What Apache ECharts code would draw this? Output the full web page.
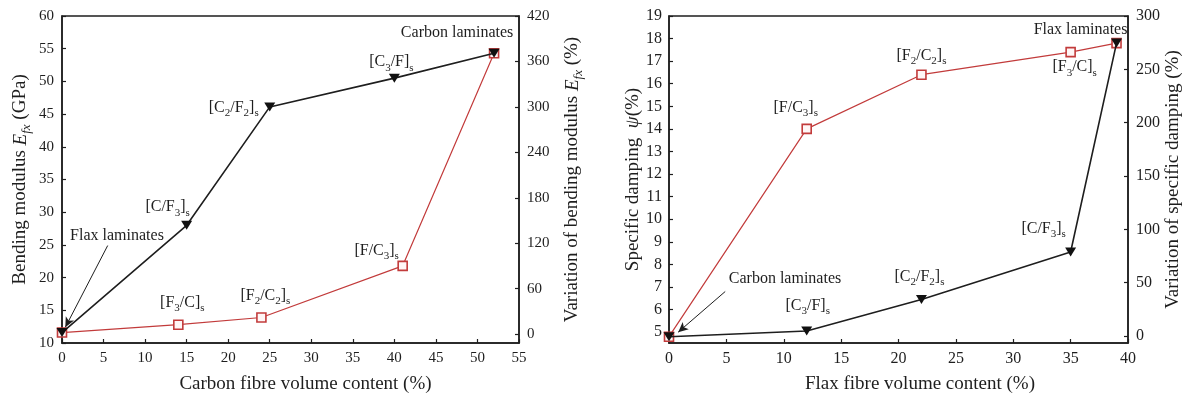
<!DOCTYPE html>
<html>
<head>
<meta charset="utf-8">
<script src="https://cdn.jsdelivr.net/npm/echarts@6/dist/echarts.min.js"></script>
<style>
  html, body { margin: 0; padding: 0; background: #fff; }
  #chart { width: 1184px; height: 399px; }
</style>
</head>
<body>
<div id="chart"></div>
<script>
// ---- Left panel: bending modulus against carbon fibre volume content ----
// Carbon plies on the outside (filled triangles)
const carbonOutContent = [0, 15, 25, 40, 52];
const carbonOutModulus = [11.6, 28.0, 46.1, 50.5, 54.3];
const carbonOutNames = ['Flax laminates', '[C/F_3]_s', '[C_2/F_2]_s', '[C_3/F]_s', 'Carbon laminates'];
// Flax plies on the outside (open squares)
const flaxOutContent = [0, 14, 24, 41, 52];
const flaxOutModulus = [11.6, 12.8, 13.9, 21.8, 54.3];
const flaxOutNames = ['', '[F_3/C]_s', '[F_2/C_2]_s', '[F/C_3]_s', ''];

// ---- Right panel: specific damping against flax fibre volume content ----
const dampFlaxOutContent = [0, 12, 22, 35, 39];
const dampFlaxOut = [4.8, 14.0, 16.4, 17.4, 17.8];
const dampFlaxOutNames = ['', '[F/C_3]_s', '[F_2/C_2]_s', '[F_3/C]_s', 'Flax laminates'];
const dampCarbonOutContent = [0, 12, 22, 35, 39];
const dampCarbonOut = [4.8, 5.05, 6.45, 8.55, 17.8];
const dampCarbonOutNames = ['Carbon laminates', '[C_3/F]_s', '[C_2/F_2]_s', '[C/F_3]_s', ''];

// Tick values
const modulusTicks = [10, 15, 20, 25, 30, 35, 40, 45, 50, 55, 60];
const modulusVarTicks = [0, 60, 120, 180, 240, 300, 360, 420];
const carbonTicks = [0, 5, 10, 15, 20, 25, 30, 35, 40, 45, 50, 55];
const dampTicks = [5, 6, 7, 8, 9, 10, 11, 12, 13, 14, 15, 16, 17, 18, 19];
const dampVarTicks = [0, 50, 100, 150, 200, 250, 300];
const flaxTicks = [0, 5, 10, 15, 20, 25, 30, 35, 40];

// ---- styling ----
const FONT = '"Liberation Serif", "DejaVu Serif", serif';
const INK = '#1e1e1e';
const RED = '#c23b3b';

// "[C_2/F_2]_s" -> rich text with subscripts
function toRich(t) {
  return t.split(/(_\w)/).filter(Boolean)
    .map(p => p[0] === '_' ? '{s|' + p.slice(1) + '}' : '{n|' + p + '}').join('');
}

const labelRich = {
  n: { fontFamily: FONT, fontSize: 16, color: INK, lineHeight: 16, verticalAlign: 'top' },
  s: { fontFamily: FONT, fontSize: 11, color: INK, lineHeight: 11, padding: [8, 0, 0, 0], verticalAlign: 'top' }
};
const nameRich = {
  n: { fontFamily: FONT, fontSize: 19, color: INK, lineHeight: 19, verticalAlign: 'top' },
  i: { fontFamily: FONT, fontSize: 19, fontStyle: 'italic', color: INK, lineHeight: 19, verticalAlign: 'top' },
  is: { fontFamily: FONT, fontSize: 13, fontStyle: 'italic', color: INK, lineHeight: 13, padding: [9, 0, 0, 0], verticalAlign: 'top' }
};

// label offsets (label centre relative to marker centre), per point
const offCarbonOut = [[55, -97], [-19, -18], [-36, 1], [-3, -16], [-37, -20]];
const offFlaxOut = [null, [4, -22], [4, -22], [-26, -15], null];
const offDampFlaxOut = [null, [-11, -21], [0, -19], [4, 15], [-36, -13]];
const offDampCarbonOut = [[116, -58], [1, -25], [-2, -23], [-27, -23], null];

function points(xs, ys, names, offs) {
  return xs.map((x, i) => {
    const item = { value: [x, ys[i]] };
    if (names[i]) {
      item.label = {
        show: true, position: 'inside', align: 'center', verticalAlign: 'middle',
        offset: offs[i], formatter: toRich(names[i]), rich: labelRich
      };
    }
    return item;
  });
}

function valueAxis(extra, fontSize) {
  return Object.assign({
    type: 'value',
    axisLine: { show: true, onZero: false, lineStyle: { color: INK, width: 1.5 } },
    axisTick: { show: true, inside: true, length: 4, lineStyle: { color: INK, width: 1.2 } },
    axisLabel: { color: INK, fontFamily: FONT, fontSize: fontSize, margin: 8 },
    splitLine: { show: false },
    nameLocation: 'middle',
    nameTextStyle: { rich: nameRich, fontFamily: FONT, fontSize: 19, color: INK }
  }, extra);
}

const squareSeries = {
  type: 'line', symbol: 'rect', symbolSize: 9,
  lineStyle: { color: RED, width: 1.2 },
  itemStyle: { color: '#fff6f6', borderColor: RED, borderWidth: 1.6 },
  label: { show: false }, z: 2
};
const triangleSeries = {
  type: 'line', symbol: 'triangle', symbolRotate: 180, symbolSize: [11, 9],
  lineStyle: { color: INK, width: 1.6 },
  itemStyle: { color: '#111', borderWidth: 0 },
  label: { show: false }, z: 3
};
const arrowStyle = {
  silent: true, symbol: ['none', 'arrow'], symbolSize: [7, 10],
  label: { show: false },
  lineStyle: { color: INK, width: 1, type: 'solid' }
};

const option = {
  animation: false,
  backgroundColor: '#fff',
  textStyle: { fontFamily: FONT },
  grid: [
    { left: 62, top: 16, width: 457, height: 330, show: true, borderColor: INK, borderWidth: 1.5, backgroundColor: 'transparent', containLabel: false },
    { left: 669, top: 16, width: 459, height: 331, show: true, borderColor: INK, borderWidth: 1.5, backgroundColor: 'transparent', containLabel: false }
  ],
  xAxis: [
    valueAxis({
      gridIndex: 0, min: carbonTicks[0], max: carbonTicks[carbonTicks.length - 1], interval: 5,
      name: '{n|Carbon fibre volume content (%)}', nameGap: 32,
      nameTextStyle: { rich: nameRich, padding: [0, 0, 0, 30] }
    }, 15),
    valueAxis({
      gridIndex: 1, min: flaxTicks[0], max: flaxTicks[flaxTicks.length - 1], interval: 5,
      name: '{n|Flax fibre volume content (%)}', nameGap: 32,
      nameTextStyle: { rich: nameRich, padding: [0, 0, 0, 43] }
    }, 16)
  ],
  yAxis: [
    valueAxis({
      gridIndex: 0, position: 'left', min: modulusTicks[0], max: modulusTicks[modulusTicks.length - 1], interval: 5,
      name: '{n|Bending modulus }{i|E}{is|fx}{n| (GPa)}', nameRotate: 90, nameGap: 32
    }, 15),
    valueAxis({
      gridIndex: 0, position: 'right', min: -11.8, max: 420,
      axisLabel: { color: INK, fontFamily: FONT, fontSize: 15, margin: 8, customValues: modulusVarTicks },
      axisTick: { show: true, inside: true, length: 4, lineStyle: { color: INK, width: 1.2 }, customValues: modulusVarTicks },
      name: '{n|Variation of bending modulus }{i|E}{is|fx}{n| (%)}', nameRotate: 90, nameGap: 44,
      nameTextStyle: { rich: nameRich, padding: [0, 0, 0, 0] }
    }, 15),
    valueAxis({
      gridIndex: 1, position: 'left', min: 4.52, max: 19,
      axisLabel: { color: INK, fontFamily: FONT, fontSize: 16, margin: 7, customValues: dampTicks },
      axisTick: { show: true, inside: true, length: 4, lineStyle: { color: INK, width: 1.2 }, customValues: dampTicks },
      name: '{n|Specific damping  }{i|ψ}{n|(%)}', nameRotate: 90, nameGap: 24
    }, 16),
    valueAxis({
      gridIndex: 1, position: 'right', min: -6.5, max: 300,
      axisLabel: { color: INK, fontFamily: FONT, fontSize: 16, margin: 8, customValues: dampVarTicks },
      axisTick: { show: true, inside: true, length: 4, lineStyle: { color: INK, width: 1.2 }, customValues: dampVarTicks },
      name: '{n|Variation of specific damping (%)}', nameRotate: 90, nameGap: 32
    }, 16)
  ],
  series: [
    Object.assign({}, squareSeries, {
      xAxisIndex: 0, yAxisIndex: 0,
      data: points(flaxOutContent, flaxOutModulus, flaxOutNames, offFlaxOut)
    }),
    Object.assign({}, triangleSeries, {
      xAxisIndex: 0, yAxisIndex: 0,
      data: points(carbonOutContent, carbonOutModulus, carbonOutNames, offCarbonOut),
      markLine: Object.assign({}, arrowStyle, {
        data: [[{ coord: [5.5, 24.9] }, { coord: [0.4, 12.4] }]]
      })
    }),
    Object.assign({}, squareSeries, {
      xAxisIndex: 1, yAxisIndex: 2,
      data: points(dampFlaxOutContent, dampFlaxOut, dampFlaxOutNames, offDampFlaxOut)
    }),
    Object.assign({}, triangleSeries, {
      xAxisIndex: 1, yAxisIndex: 2,
      data: points(dampCarbonOutContent, dampCarbonOut, dampCarbonOutNames, offDampCarbonOut),
      markLine: Object.assign({}, arrowStyle, {
        data: [[{ coord: [4.9, 6.8] }, { coord: [0.8, 5.0] }]]
      })
    })
  ]
};

const chart = echarts.init(document.getElementById('chart'), null, { renderer: 'canvas' });
chart.setOption(option);
</script>
</body>
</html>
